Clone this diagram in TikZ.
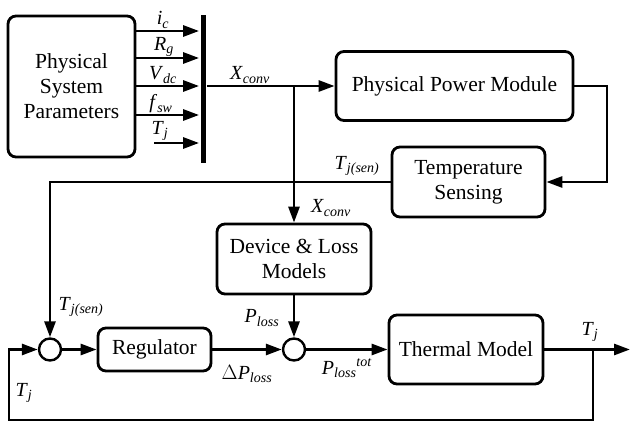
\documentclass[tikz,border=0pt]{standalone}
\usepackage{fontspec}
\setmainfont{Liberation Serif}
\usetikzlibrary{arrows.meta}
\newcommand{\vsub}[2]{\textit{#1}\textsubscript{\textit{#2}}}
\begin{document}
\begin{tikzpicture}[x=1pt,y=-1pt, line width=2.8pt,
  blk/.style={draw, rounded corners=8pt, align=center, font=\fontsize{21.5}{25}\selectfont, inner sep=0pt},
  sumnode/.style={draw, circle, minimum size=22pt, inner sep=0pt, line width=2.4pt},
  arr/.style={-{Triangle[length=16pt,width=11pt]}},
  lab/.style={font=\fontsize{20}{22}\selectfont, inner sep=1pt}]
\useasboundingbox (0,0) rectangle (630,423);
% blocks
\node[blk, minimum width=127pt, minimum height=141pt] (psp) at (71.5,86.5) {Physical\\System\\Parameters};
\node[fill, minimum width=5pt, minimum height=148pt, inner sep=0pt] (bus) at (203,89) {};
\node[blk, minimum width=237pt, minimum height=69pt] (ppm) at (454.5,86) {Physical Power Module};
\node[blk, minimum width=153pt, minimum height=70pt] (ts) at (468.5,182) {Temperature\\Sensing};
\node[blk, minimum width=154pt, minimum height=70pt] (dlm) at (294,259) {Device \& Loss\\Models};
\node[blk, minimum width=113pt, minimum height=43pt] (reg) at (154.5,349.5) {Regulator};
\node[blk, minimum width=154pt, minimum height=69pt] (tm) at (466,349.5) {Thermal Model};
\node[sumnode] (s1) at (50,349.5) {};
\node[sumnode] (s2) at (294,349.5) {};
% helper coordinates
\coordinate (tjin) at (154,143);
\coordinate (br) at (294,86);
\coordinate (c1) at (607,182);
\coordinate (out) at (630,349.5);
\coordinate (fb) at (593,349.5);
\coordinate (c2) at (9,420);
% input arrows to bus
\draw[arr] (psp.east |- 0,31) -- (bus.west |- 0,31);
\draw[arr] (psp.east |- 0,58) -- (bus.west |- 0,58);
\draw[arr] (psp.east |- 0,86) -- (bus.west |- 0,86);
\draw[arr] (psp.east |- 0,115) -- (bus.west |- 0,115);
\draw[arr] (tjin) -- (bus.west |- tjin);
% connectors
\draw[arr] (bus.east |- ppm.west) -- (ppm.west);
\draw[arr] (br) -- (dlm.north);
\draw[arr] (ppm.east) -| (c1) -- (ts.east);
\draw[arr] (ts.west) -| (s1.north);
\draw[arr] (s1.east) -- (reg.west);
\draw[arr] (reg.east) -- (s2.west);
\draw[arr] (dlm.south) -- (s2.north);
\draw[arr] (s2.east) -- (tm.west);
\draw[arr] (tm.east) -- (out);
\draw[arr] (fb) |- (c2) |- (s1.west);
% labels
\node[lab] (l1) at (163,20) {\vsub{i}{c}};
\node[lab] (l2) at (164,47) {\vsub{R}{g}};
\node[lab] (l3) at (163,75) {\vsub{V}{dc}};
\node[lab] (l4) at (161,104) {\vsub{f}{sw}};
\node[lab] (l5) at (160,131) {\vsub{T}{j}};
\node[lab] (l6) at (250,75) {\vsub{X}{conv}};
\node[lab] (l7) at (357,166) {\vsub{T}{j(sen)}};
\node[lab] (l8) at (331,208) {\vsub{X}{conv}};
\node[lab] (l9) at (81,307) {\vsub{T}{j(sen)}};
\node[lab] (l10) at (262,318) {\vsub{P}{loss}};
\node[lab] (l11) at (247,374) {$\Delta$\vsub{P}{loss}};
\node[lab] (l12) at (347,368) {\vsub{P}{loss}\textsuperscript{\textit{tot}}};
\node[lab] (l13) at (590,332) {\vsub{T}{j}};
\node[lab] (l14) at (24,393) {\vsub{T}{j}};
\end{tikzpicture}
\end{document}
